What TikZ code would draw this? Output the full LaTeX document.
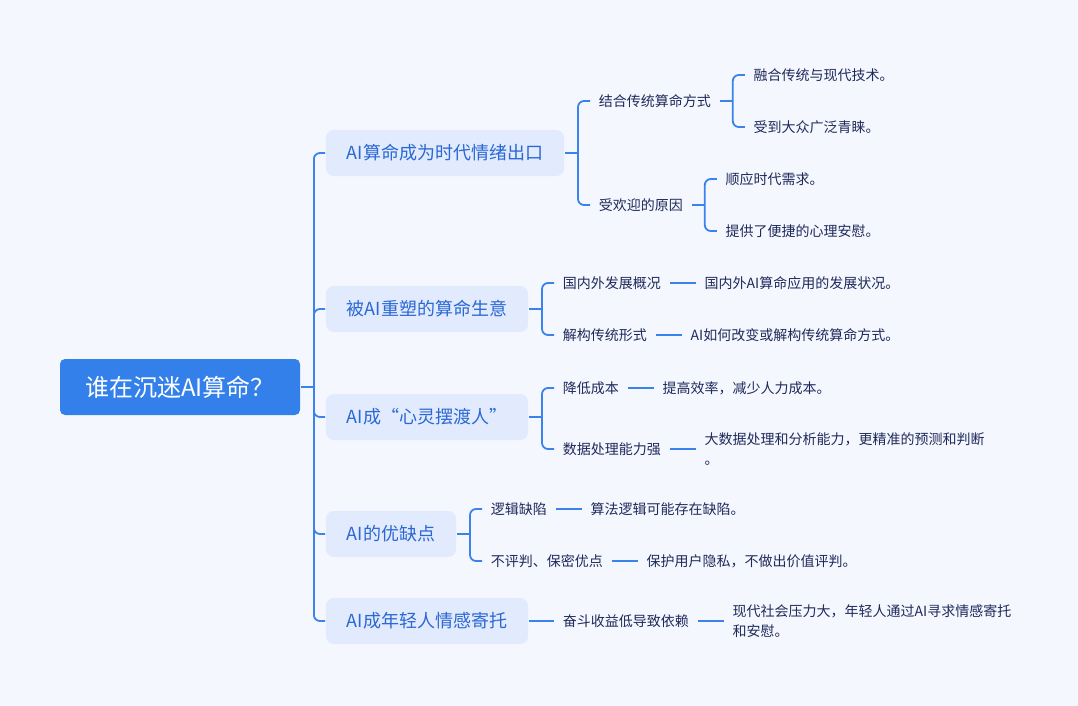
\documentclass[tikz,border=0pt]{standalone}
\usepackage{fontspec}
\setmainfont{Noto Sans CJK SC}
\usetikzlibrary{positioning}
\definecolor{bgcol}{HTML}{F5F7FE}
\definecolor{rootcol}{HTML}{3380EA}
\definecolor{boxcol}{HTML}{E2EAFD}
\definecolor{linkcol}{HTML}{3B83EC}
\definecolor{topiccol}{HTML}{2A68D4}
\definecolor{textcol}{HTML}{1F2A5A}

\begin{document}
\begin{tikzpicture}[x=1pt,y=-1pt,line width=1.8pt,node distance=26pt]

  \tikzstyle{root}=[rectangle,rounded corners=5pt,fill=rootcol,text=white,
                    font=\fontsize{24}{28}\selectfont,minimum width=240pt,minimum height=56pt]
  \tikzstyle{topic}=[rectangle,rounded corners=8pt,fill=boxcol,text=topiccol,anchor=west,
                     font=\fontsize{18}{22}\selectfont,inner xsep=21pt,minimum height=46pt]
  \tikzstyle{sub}=[inner xsep=8pt,text=textcol,font=\fontsize{14}{20}\selectfont,anchor=west]
  \tikzstyle{leaf}=[sub,align=left]
  \tikzstyle{link}=[draw=linkcol,rounded corners=6pt]

  \fill[bgcol] (0,0) rectangle (1078,706);
  \useasboundingbox (0,0) rectangle (1078,706);

  \node[root]  (root) at (180,387) {谁在沉迷AI算命？};

  \node[topic] (A) at (325,153) {AI算命成为时代情绪出口};
  \node[topic] (B) at (325,309) {被AI重塑的算命生意};
  \node[topic] (C) at (325,417) {AI成“心灵摆渡人”};
  \node[topic] (D) at (325,534) {AI的优缺点};
  \node[topic] (E) at (325,621) {AI成年轻人情感寄托};

  \node[sub] (A1) at (590,101) {结合传统算命方式};
  \node[sub] (A2) at (590,205) {受欢迎的原因};
  \node[sub] (B1) at (554,283) {国内外发展概况};
  \node[sub] (B2) at (554,335) {解构传统形式};
  \node[sub] (C1) at (554,388) {降低成本};
  \node[sub] (C2) at (554,449) {数据处理能力强};
  \node[sub] (D1) at (482,509) {逻辑缺陷};
  \node[sub] (D2) at (482,561) {不评判、保密优点};
  \node[sub] (E1) at (554,621) {奋斗收益低导致依赖};

  \node[leaf] (A11) [above right=26pt and 25pt of A1.east,anchor=west] {融合传统与现代技术。};
  \node[leaf] (A12) [below right=26pt and 25pt of A1.east,anchor=west] {受到大众广泛青睐。};
  \node[leaf] (A21) [above right=26pt and 25pt of A2.east,anchor=west] {顺应时代需求。};
  \node[leaf] (A22) [below right=26pt and 25pt of A2.east,anchor=west] {提供了便捷的心理安慰。};
  \node[leaf] (B11) [right=of B1] {国内外AI算命应用的发展状况。};
  \node[leaf] (B21) [right=of B2] {AI如何改变或解构传统算命方式。};
  \node[leaf] (C11) [right=of C1] {提高效率，减少人力成本。};
  \node[leaf] (C21) [right=of C2] {大数据处理和分析能力，更精准的预测和判断\\。};
  \node[leaf] (D11) [right=of D1] {算法逻辑可能存在缺陷。};
  \node[leaf] (D21) [right=of D2] {保护用户隐私，不做出价值评判。};
  \node[leaf] (E11) [right=of E1] {现代社会压力大，年轻人通过AI寻求情感寄托\\和安慰。};

  % brackets
  \draw[link] (root.east) -- ++(13,0) coordinate (rootj);
  \foreach \t in {A,B,C,D,E}
    \draw[link] (rootj) |- (\t.west);

  \draw[link] (A.east) -- ++(13,0) coordinate (Aj);
  \foreach \s in {A1,A2}
    \draw[link] (Aj) |- (\s.west);
  \draw[link] (B.east) -- ++(13,0) coordinate (Bj);
  \foreach \s in {B1,B2}
    \draw[link] (Bj) |- (\s.west);
  \draw[link] (C.east) -- ++(13,0) coordinate (Cj);
  \foreach \s in {C1,C2}
    \draw[link] (Cj) |- (\s.west);
  \draw[link] (D.east) -- ++(13,0) coordinate (Dj);
  \foreach \s in {D1,D2}
    \draw[link] (Dj) |- (\s.west);
  \draw[link] (E.east) -- (E1.west);

  \draw[link] (A1.east) -- ++(13,0) coordinate (A1j);
  \foreach \s in {A11,A12}
    \draw[link] (A1j) |- (\s.west);
  \draw[link] (A2.east) -- ++(13,0) coordinate (A2j);
  \foreach \s in {A21,A22}
    \draw[link] (A2j) |- (\s.west);

  % straight links
  \foreach \s/\l in {B1/B11,B2/B21,C1/C11,C2/C21,D1/D11,D2/D21,E1/E11}
    \draw[link] (\s.east) -- (\l.west);
\end{tikzpicture}
\end{document}
